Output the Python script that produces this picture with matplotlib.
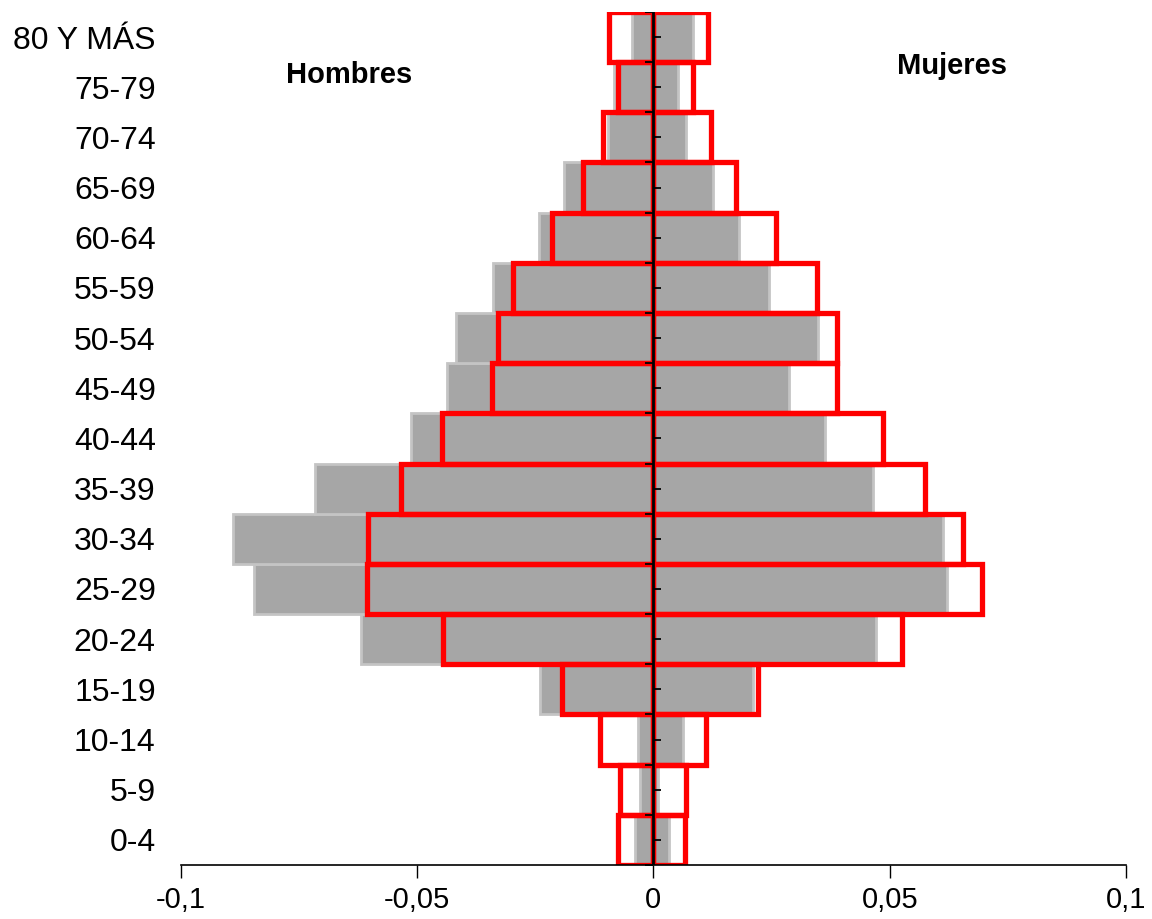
import numpy as np
import matplotlib
matplotlib.use("Agg")
import matplotlib.pyplot as plt

plt.rcParams['font.family'] = ['Liberation Sans', 'DejaVu Sans']

# age groups, bottom to top
grupos = ['0-4', '5-9', '10-14', '15-19', '20-24', '25-29', '30-34', '35-39',
          '40-44', '45-49', '50-54', '55-59', '60-64', '65-69', '70-74',
          '75-79', '80 Y MÁS']

# gray filled bars
hombres_gris = [0.0038, 0.0028, 0.0032, 0.0239, 0.0619, 0.0845, 0.0889, 0.0716,
                0.0513, 0.0436, 0.0418, 0.0339, 0.0243, 0.0189, 0.0097,
                0.0083, 0.0045]
mujeres_gris = [0.0032, 0.0010, 0.0063, 0.0210, 0.0472, 0.0622, 0.0613, 0.0465,
                0.0364, 0.0287, 0.0349, 0.0245, 0.0182, 0.0127, 0.0070,
                0.0051, 0.0084]

# red outlined bars
hombres_rojo = [0.0076, 0.0070, 0.0112, 0.0193, 0.0445, 0.0606, 0.0604, 0.0535,
                0.0447, 0.0342, 0.0329, 0.0297, 0.0214, 0.0148, 0.0107,
                0.0074, 0.0093]
mujeres_rojo = [0.0066, 0.0070, 0.0112, 0.0222, 0.0527, 0.0696, 0.0656, 0.0574,
                0.0486, 0.0389, 0.0389, 0.0346, 0.0260, 0.0175, 0.0121,
                0.0083, 0.0116]

xticks = [-0.1, -0.05, 0, 0.05, 0.1]
xlabels = ['-0,1', '-0,05', '0', '0,05', '0,1']

y = np.arange(len(grupos))

fig = plt.figure(figsize=(11.52, 9.19), dpi=100)
ax = fig.add_axes([0.157, 0.0588, 0.8204, 0.9282])

gris = '#a6a6a6'
ax.barh(y, -np.array(hombres_gris), height=1.0, color=gris,
        edgecolor='#c4c4c4', linewidth=2, zorder=1)
ax.barh(y, mujeres_gris, height=1.0, color=gris,
        edgecolor='#c4c4c4', linewidth=2, zorder=1)

ax.barh(y, -np.array(hombres_rojo), height=1.0, fill=False,
        edgecolor='#ff0000', linewidth=3.8, zorder=2)
ax.barh(y, mujeres_rojo, height=1.0, fill=False,
        edgecolor='#ff0000', linewidth=3.8, zorder=2)

ax.set_xlim(-0.1, 0.1)
ax.set_ylim(-0.5, len(grupos) - 0.5)

ax.set_yticks(y)
ax.set_yticklabels(grupos, fontsize=23)
ax.tick_params(axis='y', length=0, pad=18)
ax.set_xticks(xticks)
ax.set_xticklabels(xlabels, fontsize=21)
ax.tick_params(axis='x', length=9, width=1, pad=6)

for s in ['top', 'right', 'left']:
    ax.spines[s].set_visible(False)
ax.spines['bottom'].set_linewidth(1.2)

# center axis with tick marks
ax.axvline(0, color='black', linewidth=2, zorder=3)
limites = np.arange(len(grupos) + 1) - 0.5
ax.plot(np.zeros(len(limites)), limites, linestyle='none', marker=0,
        markersize=6, markeredgewidth=1.3, color='black', zorder=4)
ax.plot(np.zeros(len(y)), y, linestyle='none', marker=1,
        markersize=6, markeredgewidth=1.3, color='black', zorder=4)

fig.text(349 / 1152, 1 - 75 / 919, 'Hombres', fontsize=21, fontweight='bold',
         ha='center', va='center')
fig.text(952 / 1152, 1 - 66 / 919, 'Mujeres', fontsize=21, fontweight='bold',
         ha='center', va='center')

fig.savefig('out.png', dpi=100)
